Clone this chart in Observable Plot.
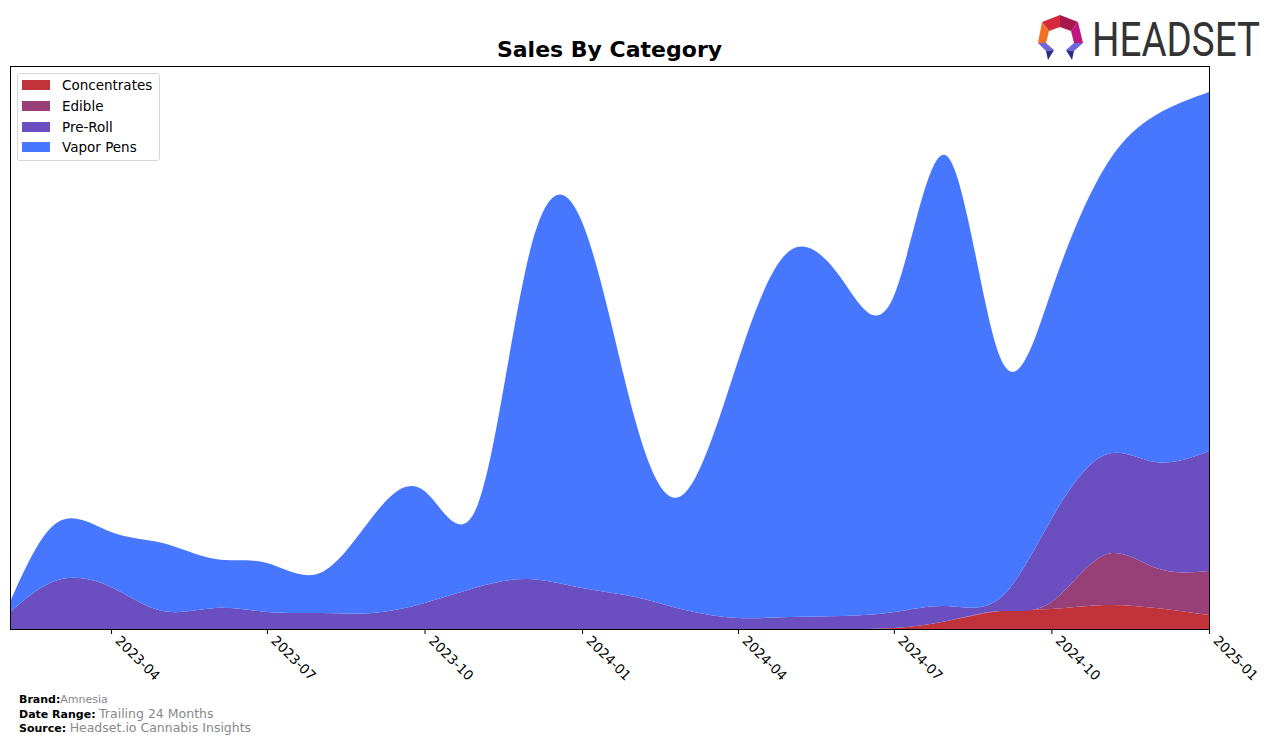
<!DOCTYPE html>
<html>
<head>
<meta charset="utf-8">
<script src="https://cdn.jsdelivr.net/npm/d3@7"></script>
<script src="https://cdn.jsdelivr.net/npm/@observablehq/plot@0.6"></script>
<style>
  html, body { margin: 0; padding: 0; background: #fff; }
  body { width: 1276px; height: 743px; position: relative; overflow: hidden; font-family: "DejaVu Sans", sans-serif; }
  #chart { position: absolute; left: 0; top: 0; }
  #title { position: absolute; left: 0; width: 1219px; top: 37px; text-align: center; font-weight: bold; font-size: 22px; line-height: 26px; color: #000; }
  #legend { position: absolute; left: 17px; top: 73px; width: 141px; height: 86px; border: 1px solid #d6d6d6; border-radius: 3px; background: rgba(255,255,255,0.85); font-size: 13.5px; }
  .row { position: absolute; left: 4px; height: 16px; line-height: 16px; }
  .sw { position: absolute; left: 0; top: 3px; width: 28px; height: 10px; }
  .lab { position: absolute; left: 40px; top: 0; white-space: nowrap; }
  #footer { position: absolute; left: 19px; top: 693px; font-size: 11px; line-height: 13.5px; color: #000; }
  #footer b { font-weight: bold; }
  #footer .v { color: #888; }
  #footer .big { font-size: 12.5px; }
  #logo { position: absolute; left: 0; top: 0; }
</style>
</head>
<body>
<div id="chart"></div>
<div id="title">Sales By Category</div>
<div id="legend"></div>
<div id="footer">
  <div><b>Brand:</b><span class="v">Amnesia</span></div>
  <div><b>Date Range:</b> <span class="v big">Trailing 24 Months</span></div>
  <div><b>Source:</b> <span class="v big">Headset.io Cannabis Insights</span></div>
</div>
<svg id="logo" width="1276" height="72">
  <polygon points="1042,22 1060,15 1060,27 1049,31" fill="#d42a3c"/>
  <polygon points="1060,15 1078,22 1071,31 1060,27" fill="#a6184e"/>
  <polygon points="1078,22 1083,43 1074,43 1071,31" fill="#c0177e"/>
  <polygon points="1042,22 1049,31 1046,43 1038,43" fill="#f27022"/>
  <polygon points="1038,43 1046,43 1054,50 1046,51" fill="#6e66dc"/>
  <polygon points="1046,51 1054,50 1048,60" fill="#2c2d86"/>
  <polygon points="1083,43 1074,43 1066,50 1074,51" fill="#6e66dc"/>
  <polygon points="1074,51 1066,50 1072,60" fill="#2c2d86"/>
  <text id="logotext" x="0" y="0" font-family="Roboto, 'DejaVu Sans', sans-serif" font-size="49" fill="#333">HEADSET</text>
</svg>
<script>
// ---- Data ----
const months = ["2023-02","2023-03","2023-04","2023-05","2023-06","2023-07","2023-08","2023-09","2023-10","2023-11","2023-12",
  "2024-01","2024-02","2024-03","2024-04","2024-05","2024-06","2024-07","2024-08","2024-09","2024-10","2024-11","2024-12","2025-01"];
const categories = ["Concentrates", "Edible", "Pre-Roll", "Vapor Pens"];
const colors = ["#c1323a", "#983f78", "#6b4ec0", "#4877ff"];
const concentrates = [0,0,0,0,0,0,0,0,0,0,0,0,0,0,0,0,0,1,8,18,20,24,21,14];
const edible       = [0,0,0,0,0,0,0,0,0,0,0,0,0,0,0,0,0,0,0,0,7,50,40,44];
const preRoll      = [17,49,42,18,21,17,16,16,26,42,50,41,32,19,11,12,13,16,15,13,83,100,106,120];
const vaporPens    = [10,58,55,68,49,49,40,97,112,82,324,366,177,117,257,366,336,316,450,241,228,287,347,359];
const tickLabels = ["2023-04","2023-07","2023-10","2024-01","2024-04","2024-07","2024-10","2025-01"];

const parse = d3.utcParse("%Y-%m");
const seriesValues = [concentrates, edible, preRoll, vaporPens];
const table = [];
categories.forEach((c, i) => {
  months.forEach((m, j) => table.push({date: parse(m), category: c, value: seriesValues[i][j]}));
});
const tickDates = tickLabels.map(parse);

const chart = Plot.plot({
  width: 1276,
  height: 690,
  marginTop: 66,
  marginLeft: 10,
  marginRight: 67,
  marginBottom: 61,
  style: {fontFamily: "DejaVu Sans, sans-serif", fontSize: "13.5px", color: "#000", background: "transparent", overflow: "visible"},
  x: {
    type: "utc",
    domain: [parse(months[0]), parse(months[months.length - 1])],
    label: null
  },
  y: {domain: [0, 563], axis: null},
  color: {domain: categories, range: colors},
  marks: [
    Plot.areaY(table, {x: "date", y: "value", fill: "category", z: "category", order: categories, curve: "natural", clip: true}),
    Plot.axisX({ticks: tickDates, tickSize: 5, tickFormat: () => "", label: null}),
    Plot.axisX({ticks: tickDates, tickSize: 0, tickRotate: 45, tickPadding: 4, dx: 6, dy: 5, tickFormat: d3.utcFormat("%Y-%m"), label: null}),
    Plot.frame({stroke: "#000", strokeWidth: 1})
  ]
});
document.getElementById("chart").appendChild(chart);

// legend
const legend = document.getElementById("legend");
categories.forEach((c, i) => {
  const row = document.createElement("div");
  row.className = "row";
  row.style.top = (3 + i * 20.8) + "px";
  row.innerHTML = `<span class="sw" style="background:${colors[i]}"></span><span class="lab">${c}</span>`;
  legend.appendChild(row);
});

// logo text fit into 1092..1260, baseline 56
const lt = document.getElementById("logotext");
const w = lt.getComputedTextLength() || 168;
lt.setAttribute("transform", `translate(1092,56) scale(${168 / w},1)`);
</script>
</body>
</html>
